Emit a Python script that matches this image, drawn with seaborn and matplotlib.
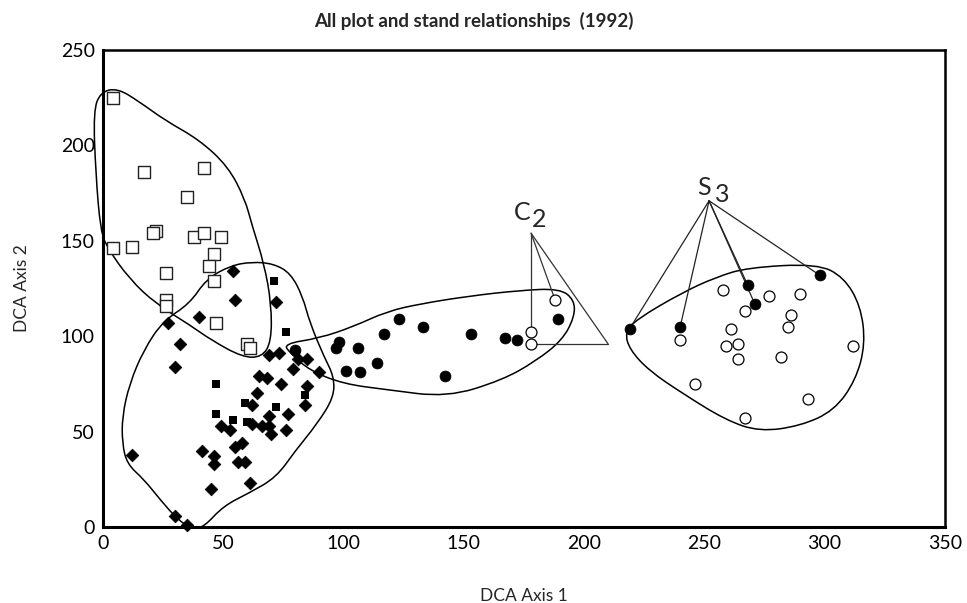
import numpy as np
import pandas as pd
import seaborn as sns
import matplotlib
matplotlib.use("Agg")
import matplotlib.pyplot as plt
from matplotlib.path import Path
from matplotlib.patches import PathPatch

# ---- point data (DCA axis 1, DCA axis 2) ----
open_sq_x = [4, 17, 42, 35, 22, 21, 4, 12, 38, 42, 49, 46, 44, 46, 26, 26, 26, 47, 60, 61]
open_sq_y = [225, 186, 188, 173, 155, 154, 146, 147, 152, 154, 152, 143, 137, 129, 133, 119, 116, 107, 96, 94]

diam_x = [54, 55, 72, 40, 27, 32, 30, 69, 73, 81, 85, 79, 90, 65, 68, 74, 85, 64, 62, 84,
          77, 69, 49, 53, 62, 66, 69, 70, 76, 58, 55, 41, 46, 46, 56, 59, 12, 45, 61, 30, 35]
diam_y = [134, 119, 118, 110, 107, 96, 84, 90, 91, 88, 88, 83, 81, 79, 78, 75, 74, 70, 64, 64,
          59, 58, 53, 51, 54, 53, 53, 49, 51, 44, 42, 40, 37, 33, 34, 34, 38, 20, 23, 6, 1]

small_sq_x = [71, 76, 47, 59, 47, 54, 60, 72, 84]
small_sq_y = [129, 102, 75, 65, 59, 56, 55, 63, 69]

fill_circ_x = [80, 98, 97, 106, 101, 107, 114, 117, 123, 133, 142, 153, 167, 172, 189,
               219, 240, 268, 271, 298]
fill_circ_y = [93, 97, 94, 94, 82, 81, 86, 101, 109, 105, 79, 101, 99, 98, 109,
               104, 105, 127, 117, 132]

open_circ_x = [188, 178, 178, 258, 240, 267, 277, 290, 286, 285, 261, 259, 264, 264, 282, 312, 246, 293, 267]
open_circ_y = [119, 102, 96, 124, 98, 113, 121, 122, 111, 105, 104, 95, 96, 88, 89, 95, 75, 67, 57]

# ---- group outlines (control points) ----
hull_sq = [(6, 230), (-1, 228), (-4, 218), (-3, 185), (-1, 155), (2, 146), (11, 130), (22, 117),
           (36, 106), (45, 98), (58, 89), (66, 89), (70, 97), (70, 117), (67, 138), (62, 158),
           (59, 172), (52, 189), (40, 203), (26, 213), (15, 223)]
hull_diam = [(62, 139), (53, 137), (43, 130), (36, 117), (25, 108), (17, 93), (11, 75), (8, 58),
             (8, 44), (10, 33), (17, 25), (24, 14), (31, 4), (37, -1), (42, 0), (50, 11), (61, 18),
             (72, 26), (80, 40), (89, 54), (96, 68), (96, 79), (92, 89), (86, 107), (83, 121),
             (78, 133), (71, 138)]
hull_c = [(75, 96), (90, 99), (104, 105), (118, 113), (132, 117), (152, 121), (173, 124),
          (190, 125), (196, 119), (196, 110), (191, 98), (180, 87), (166, 77), (143, 68),
          (118, 72), (100, 75), (86, 82), (78, 91)]
hull_s = [(217, 102), (222, 109), (241, 123), (255, 131), (268, 136), (297, 138), (308, 131),
          (315, 116), (317, 96), (313, 77), (304, 61), (290, 53), (273, 50), (259, 56),
          (241, 70), (227, 82), (219, 93)]

# callout lines
c2_apex = (178, 154)
c2_targets = [(178, 102), (188, 119), (210, 96)]
c2_base = [(210, 96), (178, 96)]
s3_apex = (252, 171)
s3_targets = [(219, 104), (240, 105), (268, 127), (271, 117), (298, 132)]

x_ticks = [0, 50, 100, 150, 200, 250, 300, 350]
y_ticks = [0, 50, 100, 150, 200, 250]


def closed_curve(pts):
    # quadratic b-spline through midpoints, drawn by matplotlib's curve codes
    pts = np.array(pts, dtype=float)
    mids = (pts + np.roll(pts, -1, axis=0)) / 2
    verts = [mids[-1]]
    codes = [Path.MOVETO]
    for p, m in zip(pts, mids):
        verts += [p, m]
        codes += [Path.CURVE3, Path.CURVE3]
    return Path(verts, codes)


sns.set_style("white")
plt.rcParams['font.family'] = ['Lato', 'DejaVu Sans']

fig = plt.figure(figsize=(9.67, 6.03), dpi=100)
ax = fig.add_axes([0.1065, 0.126, 0.8705, 0.791])

for h in [hull_sq, hull_diam, hull_c, hull_s]:
    ax.add_patch(PathPatch(closed_curve(h), facecolor='none', edgecolor='black',
                           lw=1.1, clip_on=False, zorder=1))

for t in c2_targets:
    ax.plot([c2_apex[0], t[0]], [c2_apex[1], t[1]], color='#333333', lw=0.9, zorder=1)
ax.plot([p[0] for p in c2_base], [p[1] for p in c2_base], color='#333333', lw=0.9, zorder=1)
for t in s3_targets:
    ax.plot([s3_apex[0], t[0]], [s3_apex[1], t[1]], color='#222222', lw=0.9, zorder=1)

sns.scatterplot(x=open_sq_x, y=open_sq_y, marker='s', s=80, facecolor='white',
                edgecolor='#222222', linewidth=1.0, ax=ax, zorder=3, clip_on=False)
sns.scatterplot(x=diam_x, y=diam_y, marker='D', s=42, color='black',
                edgecolor='black', linewidth=0.5, ax=ax, zorder=3, clip_on=False)
sns.scatterplot(x=small_sq_x, y=small_sq_y, marker='s', s=26, color='black',
                edgecolor='black', linewidth=0, ax=ax, zorder=3)
sns.scatterplot(x=fill_circ_x, y=fill_circ_y, marker='o', s=62, color='black',
                edgecolor='black', linewidth=0.5, ax=ax, zorder=3)
sns.scatterplot(x=open_circ_x, y=open_circ_y, marker='o', s=62, facecolor='white',
                edgecolor='black', linewidth=0.9, ax=ax, zorder=3)

ax.text(174.5, 165, 'C', fontsize=18, ha='center', va='center')
ax.text(181.5, 161, '2', fontsize=18, ha='center', va='center')
ax.text(250, 178, 'S', fontsize=18, ha='center', va='center')
ax.text(257.5, 174.5, '3', fontsize=18, ha='center', va='center')

ax.set_xlim(0, 350)
ax.set_ylim(0, 250)
ax.set_xticks(x_ticks)
ax.set_yticks(y_ticks)
ax.tick_params(direction='in', length=6, width=1, labelsize=14, colors='black', pad=6)
for side in ['left', 'bottom']:
    ax.spines[side].set_linewidth(2.2)
for side in ['top', 'right']:
    ax.spines[side].set_linewidth(1.8)
for sp in ax.spines.values():
    sp.set_color('black')

ax.set_xlabel('DCA Axis 1', fontsize=12.5, labelpad=26)
ax.set_ylabel('DCA Axis 2', fontsize=12.5, labelpad=22)
fig.text(0.49, 0.965, 'All plot and stand relationships  (1992)', fontsize=13.5,
         fontweight='bold', ha='center', va='center')

fig.savefig('out.png', dpi=100)
